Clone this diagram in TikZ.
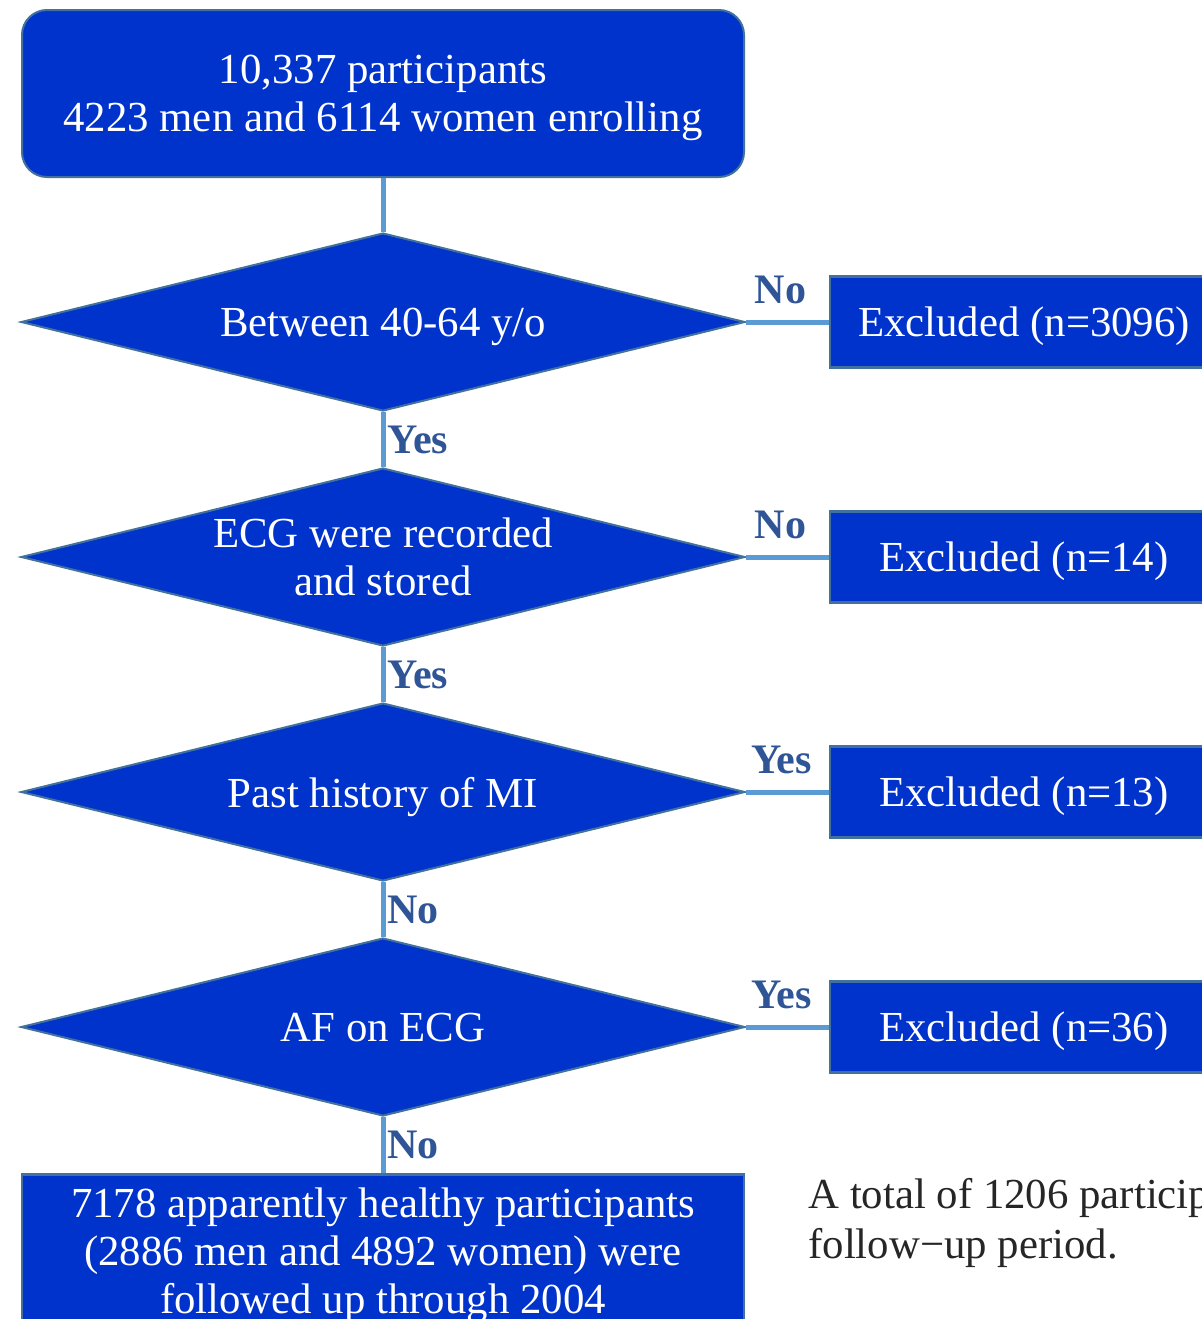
\documentclass[tikz,border=0pt]{standalone}
\usepackage{fontspec}
\setmainfont{Liberation Serif}
\usetikzlibrary{shapes.geometric}
\definecolor{boxfill}{HTML}{0033CC}
\definecolor{boxline}{HTML}{41719C}
\definecolor{linkblue}{HTML}{5B9BD5}
\definecolor{answer}{HTML}{2F5597}
\tikzstyle{startbox} = [rectangle, rounded corners=12.5pt, draw=boxline, line width=1pt, fill=boxfill, text=white, minimum width=361pt, minimum height=83.5pt, text depth=0pt, align=center, font=\fontsize{21.4}{24}\selectfont]
\tikzstyle{check} = [diamond, aspect=4.07, inner sep=0pt, draw=boxline, line width=1pt, fill=boxfill, text=white, minimum width=362pt, minimum height=89pt, text depth=0pt, align=center, font=\fontsize{21.4}{24}\selectfont]
\tikzstyle{excl} = [rectangle, draw=boxline, line width=1.25pt, fill=boxfill, text=white, minimum width=194pt, minimum height=45.5pt, text depth=0pt, font=\fontsize{21.4}{24}\selectfont]
\tikzstyle{endbox} = [rectangle, draw=boxline, line width=1.25pt, fill=boxfill, text=white, minimum width=361pt, minimum height=76pt, inner sep=0pt, text depth=0pt, align=center, font=\fontsize{21.4}{24}\selectfont]
\tikzstyle{link} = [line width=2.5pt, draw=linkblue]
\tikzstyle{answer} = [text=answer, inner sep=1pt, font=\fontsize{21}{24}\selectfont\bfseries]
\tikzstyle{note} = [text=black!85, inner sep=0pt, align=left, font=\fontsize{21.4}{25}\selectfont]

\begin{document}
\begin{tikzpicture}[x=0.5pt, y=-0.5pt]
	\clip (0,0) rectangle (1202,1319);
	\node [startbox] (top) at (383,93.5) {10,337 participants\\4223 men and 6114 women enrolling};
	\node [check] (age) at (383,322) {Between 40-64 y/o};
	\node [check] (ecg) at (383,557) {ECG were recorded\\and stored};
	\node [check] (mi) at (383,792) {Past history of MI};
	\node [check] (af) at (383,1027) {AF on ECG};
	\node [endbox, anchor=north] (final) at (383,1173) {7178 apparently healthy participants\\(2886 men and 4892 women) were\\followed up through 2004};
	\node [excl] (ex1) at (1024,322) {Excluded (n=3096)};
	\node [excl] (ex2) at (1024,557) {Excluded (n=14)};
	\node [excl] (ex3) at (1024,792) {Excluded (n=13)};
	\node [excl] (ex4) at (1024,1027) {Excluded (n=36)};
	\draw [link] (top) -- (age);
	\draw [link] (age) -- node [answer, right] {Yes} (ecg);
	\draw [link] (ecg) -- node [answer, right] {Yes} (mi);
	\draw [link] (mi) -- node [answer, right] {No} (af);
	\draw [link] (af) -- node [answer, right] {No} (final);
	\draw [link] (age) -- node [answer, above=7pt, xshift=-3.5pt] {No} (ex1);
	\draw [link] (ecg) -- node [answer, above=7pt, xshift=-3.5pt] {No} (ex2);
	\draw [link] (mi) -- node [answer, above=7pt, xshift=-3pt] {Yes} (ex3);
	\draw [link] (af) -- node [answer, above=7pt, xshift=-3pt] {Yes} (ex4);
	\node [note, anchor=north west] (total) at (808,1178) {A total of 1206 participants\\follow−up period.};
\end{tikzpicture}
\end{document}
